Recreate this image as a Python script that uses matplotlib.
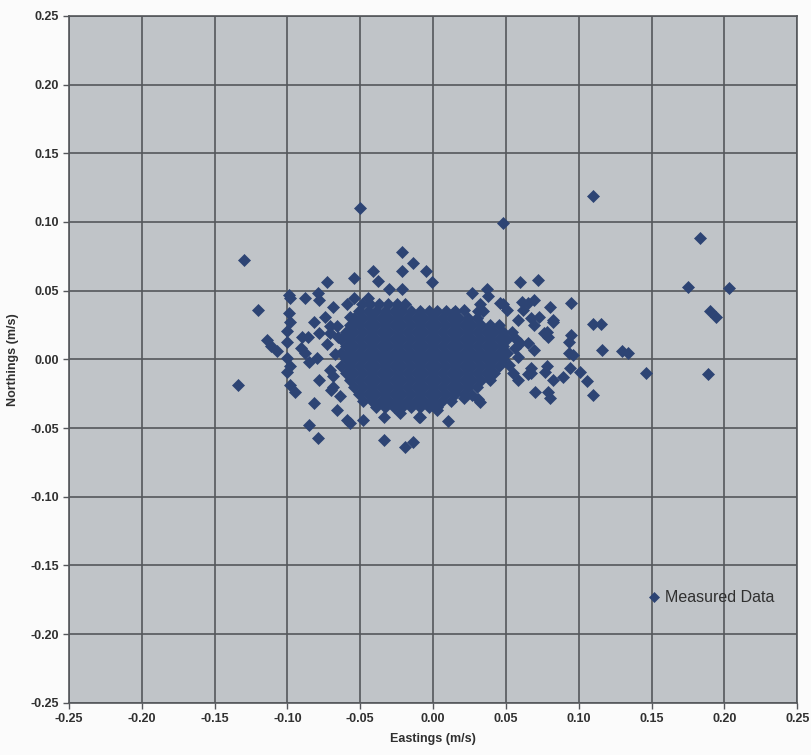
import matplotlib
matplotlib.use("Agg")
import matplotlib.pyplot as plt
from matplotlib.ticker import FormatStrFormatter

plt.rcParams['font.family'] = ['Liberation Sans', 'DejaVu Sans']

# dense core of the cloud, read row by row (northings, list of eastings)
core_y = [0.040, 0.035, 0.030, 0.025, 0.020, 0.015, 0.010, 0.005,
          0.000, -0.005, -0.010, -0.015, -0.020, -0.025, -0.030, -0.035]
core_x = [
    [-0.049, -0.043, -0.037, -0.031, -0.025, -0.019],
    [-0.051, -0.045, -0.039, -0.033, -0.027, -0.021, -0.015, -0.009, -0.003, 0.003, 0.009, 0.015],
    [-0.054, -0.048, -0.042, -0.036, -0.030, -0.024, -0.018, -0.012, -0.006, 0.000, 0.006, 0.012,
     0.018, 0.024, 0.030],
    [-0.057, -0.051, -0.045, -0.039, -0.033, -0.027, -0.021, -0.015, -0.009, -0.003, 0.003, 0.009,
     0.015, 0.021, 0.027, 0.033, 0.039, 0.045],
    [-0.060, -0.054, -0.048, -0.042, -0.036, -0.030, -0.024, -0.018, -0.012, -0.006, 0.000, 0.006,
     0.012, 0.018, 0.024, 0.030, 0.036, 0.042, 0.048],
    [-0.063, -0.057, -0.051, -0.045, -0.039, -0.033, -0.027, -0.021, -0.015, -0.009, -0.003, 0.003,
     0.009, 0.015, 0.021, 0.027, 0.033, 0.039, 0.045, 0.051],
    [-0.060, -0.054, -0.048, -0.042, -0.036, -0.030, -0.024, -0.018, -0.012, -0.006, 0.000, 0.006,
     0.012, 0.018, 0.024, 0.030, 0.036, 0.042, 0.048],
    [-0.063, -0.057, -0.051, -0.045, -0.039, -0.033, -0.027, -0.021, -0.015, -0.009, -0.003, 0.003,
     0.009, 0.015, 0.021, 0.027, 0.033, 0.039, 0.045, 0.051],
    [-0.060, -0.054, -0.048, -0.042, -0.036, -0.030, -0.024, -0.018, -0.012, -0.006, 0.000, 0.006,
     0.012, 0.018, 0.024, 0.030, 0.036, 0.042, 0.048],
    [-0.063, -0.057, -0.051, -0.045, -0.039, -0.033, -0.027, -0.021, -0.015, -0.009, -0.003, 0.003,
     0.009, 0.015, 0.021, 0.027, 0.033, 0.039, 0.045],
    [-0.060, -0.054, -0.048, -0.042, -0.036, -0.030, -0.024, -0.018, -0.012, -0.006, 0.000, 0.006,
     0.012, 0.018, 0.024, 0.030, 0.036, 0.042],
    [-0.057, -0.051, -0.045, -0.039, -0.033, -0.027, -0.021, -0.015, -0.009, -0.003, 0.003, 0.009,
     0.015, 0.021, 0.027, 0.033, 0.039],
    [-0.054, -0.048, -0.042, -0.036, -0.030, -0.024, -0.018, -0.012, -0.006, 0.000, 0.006, 0.012,
     0.018, 0.024, 0.030],
    [-0.051, -0.045, -0.039, -0.033, -0.027, -0.021, -0.015, -0.009, -0.003, 0.003, 0.009, 0.015, 0.021],
    [-0.048, -0.042, -0.036, -0.030, -0.024, -0.018, -0.012, -0.006, 0.000, 0.006, 0.012],
    [-0.039, -0.033, -0.027, -0.021, -0.015, -0.009, -0.003, 0.003],
]

# scattered points around the core
fringe_x = [-0.050, -0.130, -0.021, -0.014, -0.021, -0.005, -0.001, -0.041, -0.038, -0.054,
            -0.073, -0.030, -0.021, -0.098, -0.088, -0.079, -0.078, -0.069, -0.059, -0.054,
            -0.045, -0.120, -0.099, -0.099, -0.098, -0.100, -0.114, -0.111, -0.107, -0.100,
            -0.100, -0.098, -0.100, -0.098, -0.095, -0.134, -0.082, -0.066, -0.090, -0.086,
            -0.091, -0.088, -0.085, -0.078, -0.071, -0.073, -0.080, -0.078, -0.071, -0.069,
            -0.064, -0.085, -0.079, -0.059, -0.057, -0.048, -0.034, -0.019, -0.014, -0.034,
            -0.023, -0.010, 0.003, 0.010, 0.032, 0.021, 0.058, 0.067, 0.067, 0.070,
            0.078, 0.082, 0.079, 0.065, 0.069, 0.076, 0.079, 0.110, 0.115, 0.116,
            0.130, 0.134, 0.106, 0.110, 0.101, 0.095, 0.093, 0.093, 0.096, 0.082,
            0.078, 0.073, 0.069, 0.058, 0.060, 0.058, 0.065, 0.077, 0.089, 0.094,
            0.080, 0.031, 0.027, -0.009, 0.110, 0.048, 0.060, 0.072, 0.027, 0.037,
            0.038, 0.095, 0.080, 0.069, 0.065, 0.062, 0.048, 0.051, 0.032, 0.031,
            0.021, 0.014, 0.046, 0.061, 0.034, 0.067, 0.082, -0.082, -0.074, -0.066,
            -0.057, -0.052, -0.071, 0.183, 0.175, 0.203, 0.190, 0.194, 0.146, 0.189,
            0.054, 0.056, 0.052, 0.055, 0.057, -0.067, -0.069, -0.065, -0.070]
fringe_y = [0.110, 0.072, 0.078, 0.070, 0.064, 0.064, 0.056, 0.064, 0.057, 0.059,
            0.056, 0.051, 0.051, 0.045, 0.045, 0.048, 0.043, 0.038, 0.040, 0.045,
            0.045, 0.036, 0.034, 0.047, 0.027, 0.021, 0.014, 0.010, 0.006, 0.013,
            0.001, -0.005, -0.009, -0.019, -0.024, -0.019, -0.032, -0.037, 0.016, 0.016,
            0.008, 0.005, -0.002, 0.019, 0.024, 0.011, 0.001, -0.015, -0.008, -0.020,
            -0.027, -0.048, -0.057, -0.044, -0.046, -0.044, -0.059, -0.064, -0.060, -0.042,
            -0.039, -0.042, -0.037, -0.045, -0.031, -0.028, -0.015, -0.010, -0.006, -0.024,
            -0.005, -0.015, -0.024, 0.012, 0.007, 0.019, 0.016, 0.026, 0.026, 0.007,
            0.006, 0.005, -0.016, -0.026, -0.009, 0.018, 0.013, 0.005, 0.003, 0.027,
            0.020, 0.031, 0.025, 0.029, 0.012, 0.002, -0.011, -0.009, -0.013, -0.006,
            -0.028, -0.029, -0.026, -0.042, 0.119, 0.099, 0.056, 0.058, 0.048, 0.051,
            0.046, 0.041, 0.038, 0.043, 0.041, 0.036, 0.040, 0.036, 0.040, 0.035,
            0.036, 0.034, 0.041, 0.042, 0.035, 0.030, 0.029, 0.027, 0.031, 0.024,
            0.031, 0.027, 0.019, 0.088, 0.053, 0.052, 0.035, 0.031, -0.010, -0.011,
            0.020, 0.008, -0.004, -0.010, 0.015, 0.004, -0.012, 0.016, -0.022]

ticks = [-0.25, -0.20, -0.15, -0.10, -0.05, 0.00, 0.05, 0.10, 0.15, 0.20, 0.25]

xs = [x for row in core_x for x in row] + fringe_x
ys = [y for y, row in zip(core_y, core_x) for _ in row] + fringe_y

fig = plt.figure(figsize=(8.11, 7.55), dpi=100, facecolor='#fbfbfb')
ax = fig.add_axes([0.085, 0.069, 0.898, 0.91])
ax.set_facecolor('#c0c4c8')

ax.plot(xs, ys, linestyle='none', marker='D', markersize=5.8,
        color='#2d4474', markeredgecolor='#2d4474', markeredgewidth=0.5,
        label='Measured Data', zorder=3)

ax.set_xlim(-0.25, 0.25)
ax.set_ylim(-0.25, 0.25)
ax.set_xticks(ticks)
ax.set_yticks(ticks)
ax.xaxis.set_major_formatter(FormatStrFormatter('%.2f'))
ax.yaxis.set_major_formatter(FormatStrFormatter('%.2f'))
ax.grid(True, color='#55575b', linewidth=1.2, zorder=1)
ax.set_axisbelow(True)
for side in ax.spines.values():
    side.set_color('#55575b')
    side.set_linewidth(1.2)

ax.tick_params(length=4, width=1, color='#55575b', labelsize=9, pad=3, labelcolor='#303030')
for lab in ax.get_xticklabels() + ax.get_yticklabels():
    lab.set_fontweight('bold')

ax.set_xlabel('Eastings (m/s)', fontsize=9, fontweight='bold', color='#303030', labelpad=6)
ax.set_ylabel('Northings (m/s)', fontsize=9, fontweight='bold', color='#303030', labelpad=8)

ax.legend(loc='center left', bbox_to_anchor=(0.775, 0.153), frameon=False,
          fontsize=11.5, handlelength=0.8, handletextpad=0.3, markerscale=0.9,
          labelcolor='#303030')

fig.savefig('out.png', dpi=100, facecolor=fig.get_facecolor())
